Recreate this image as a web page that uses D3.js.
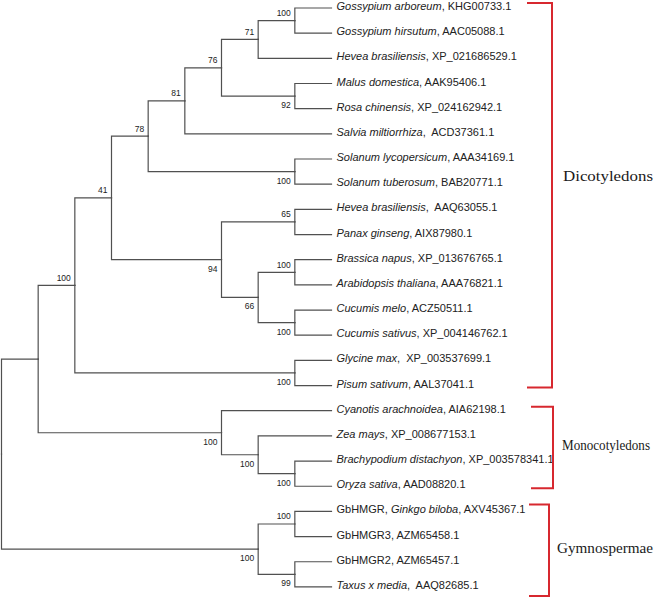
<!DOCTYPE html>
<html>
<head>
<meta charset="utf-8">
<script src="https://cdn.jsdelivr.net/npm/d3@7"></script>
<style>
  html, body { margin: 0; padding: 0; background: #fff; }
  svg { display: block; }
</style>
</head>
<body>
<svg id="chart" width="658" height="598"></svg>
<script>
// ---------------- DATA ----------------
// Leaf labels: [plain prefix, italic species, plain suffix]
const leafPrefix = ["", "", "", "", "", "", "", "", "", "", "", "", "", "", "", "", "", "", "", "", "GbHMGR, ", "GbHMGR3, AZM65458.1", "GbHMGR2, AZM65457.1", ""];
const leafSpecies = ["Gossypium arboreum", "Gossypium hirsutum", "Hevea brasiliensis", "Malus domestica", "Rosa chinensis",
  "Salvia miltiorrhiza", "Solanum lycopersicum", "Solanum tuberosum", "Hevea brasiliensis", "Panax ginseng",
  "Brassica napus", "Arabidopsis thaliana", "Cucumis melo", "Cucumis sativus", "Glycine max", "Pisum sativum",
  "Cyanotis arachnoidea", "Zea mays", "Brachypodium distachyon", "Oryza sativa", "Ginkgo biloba", "", "", "Taxus x media"];
const leafAccession = [", KHG00733.1", ", AAC05088.1", ", XP_021686529.1", ", AAK95406.1", ", XP_024162942.1",
  ",  ACD37361.1", ", AAA34169.1", ", BAB20771.1", ",  AAQ63055.1", ", AIX87980.1",
  ", XP_013676765.1", ", AAA76821.1", ", ACZ50511.1", ", XP_004146762.1", ",  XP_003537699.1", ", AAL37041.1",
  ", AIA62198.1", ", XP_008677153.1", ", XP_003578341.1", ", AAD08820.1", ", AXV45367.1", "", "", ",  AAQ82685.1"];

// Topology (Newick, leaves referenced by index, internal labels = bootstrap values)
const newick = "(((((((((0,1)100,2)71,(3,4)92)76,5)81,(6,7)100)78,((8,9)65,((10,11)100,(12,13)100)66)94)41,(14,15)100)100,(16,(17,(18,19)100)100)100),((20,21)100,(22,23)99)100);";

// Groups (by leaf index range)
const groupNames = ["Dicotyledons", "Monocotyledons", "Gymnospermae"];
const groupFirst = [0, 16, 20];
const groupLast = [15, 19, 23];

// ---------------- LAYOUT / STYLE ----------------
const groupStyle = [
  { bx: 552, left: 527, padTop: 5, padBottom: 2, lx: 563, ly: 181, lw: 90, fs: 15 },
  { bx: 553, left: 531, padTop: 4, padBottom: 2, lx: 562, ly: 450, lw: 88, fs: 14 },
  { bx: 549, left: 529, padTop: 7, padBottom: 9, lx: 557, ly: 553, lw: 96, fs: 15 }
];
const treeColor = "#505050";
const bracketColor = "#d7282f";
const firstLeafY = 8;

// ---------------- PARSE ----------------
function parseNewick(s) {
  let i = 0;
  function readLabel() {
    let start = i;
    while (i < s.length && !",();".includes(s[i])) i++;
    return s.slice(start, i);
  }
  function node() {
    const n = {};
    if (s[i] === "(") {
      i++;
      n.children = [node()];
      while (s[i] === ",") { i++; n.children.push(node()); }
      i++; // ')'
      const lab = readLabel();
      if (lab !== "") n.support = +lab;
    } else {
      n.leaf = +readLabel();
    }
    return n;
  }
  return node();
}

const root = d3.hierarchy(parseNewick(newick));
const nLeaves = root.leaves().length;
const leafStep = 25.17;
const treeWidth = 330;
d3.cluster().size([nLeaves * leafStep, treeWidth]).separation(() => 1)(root);
const yShift = firstLeafY - leafStep / 2;

const svg = d3.select("#chart");
const g = svg.append("g").attr("transform", "translate(1.5," + yShift + ")");

// links (elbows)
g.append("g")
  .selectAll("path")
  .data(root.links())
  .join("path")
  .attr("d", d => `M${d.source.y},${d.source.x}V${d.target.x}H${d.target.y}`)
  .attr("fill", "none")
  .attr("stroke", treeColor)
  .attr("stroke-width", 1.2)
  .attr("stroke-linecap", "square");

// bootstrap labels
g.append("g")
  .selectAll("text")
  .data(root.descendants().filter(d => d.data.support != null))
  .join("text")
  .attr("x", d => d.y - 4)
  .attr("y", d => {
    const upper = d.parent && d.parent.children[0] === d;
    return upper ? d.x - 4.5 : d.x + 12;
  })
  .attr("text-anchor", "end")
  .attr("font-family", "'Liberation Sans Narrow', 'Arial Narrow', 'Liberation Sans', Arial, sans-serif")
  .attr("font-size", 8.5)
  .attr("fill", "#222")
  .text(d => d.data.support);

// leaf labels
const leafText = g.append("g")
  .selectAll("text")
  .data(root.leaves())
  .join("text")
  .attr("x", d => d.y + 5)
  .attr("y", d => d.x + 2)
  .attr("font-family", "'Liberation Sans', Arial, sans-serif")
  .attr("font-size", 11)
  .attr("fill", "#222")
  .style("white-space", "pre");
leafText.append("tspan").text(d => leafPrefix[d.data.leaf]);
leafText.append("tspan").attr("font-style", "italic").text(d => leafSpecies[d.data.leaf]);
leafText.append("tspan").text(d => leafAccession[d.data.leaf]);

// group brackets
const leafY = {};
root.leaves().forEach(l => { leafY[l.data.leaf] = l.x + yShift; });
const groups = groupNames.map((name, k) => ({ name, first: groupFirst[k], last: groupLast[k], st: groupStyle[k] }));
const bg = svg.append("g");
bg.selectAll("path")
  .data(groups)
  .join("path")
  .attr("d", d => {
    const y0 = leafY[d.first] - d.st.padTop, y1 = leafY[d.last] + d.st.padBottom;
    return `M${d.st.left},${y0}H${d.st.bx}V${y1}H${d.st.left}`;
  })
  .attr("fill", "none")
  .attr("stroke", bracketColor)
  .attr("stroke-width", 2);
bg.selectAll("text")
  .data(groups)
  .join("text")
  .attr("x", d => d.st.lx)
  .attr("y", d => d.st.ly)
  .attr("font-family", "'Liberation Serif', 'Times New Roman', serif")
  .attr("font-size", d => d.st.fs)
  .attr("fill", "#1a1a1a")
  .attr("textLength", d => d.st.lw)
  .attr("lengthAdjust", "spacingAndGlyphs")
  .text(d => d.name);
</script>
</body>
</html>
